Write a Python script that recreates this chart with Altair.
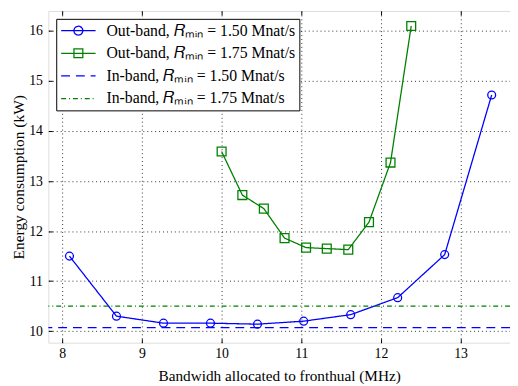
import altair as alt
import pandas as pd

labels = [
    "Out-band, 𝑅ₘᵢₙ = 1.50 Mnat/s",
    "Out-band, 𝑅ₘᵢₙ = 1.75 Mnat/s",
    "In-band, 𝑅ₘᵢₙ = 1.50 Mnat/s",
    "In-band, 𝑅ₘᵢₙ = 1.75 Mnat/s",
]
bw_150 = [8.09, 8.68, 9.27, 9.86, 10.45, 11.03, 11.62, 12.21, 12.80, 13.39]
energy_150 = [11.50, 10.30, 10.16, 10.16, 10.14, 10.20, 10.33, 10.67, 11.53, 14.72]
bw_175 = [10.00, 10.26, 10.53, 10.79, 11.06, 11.32, 11.59, 11.85, 12.12, 12.38]
energy_175 = [13.59, 12.72, 12.45, 11.86, 11.67, 11.65, 11.63, 12.18, 13.37, 16.10]
inband_levels = [10.07, 10.50]
x_ticks = [8, 9, 10, 11, 12, 13]
y_ticks = [10, 11, 12, 13, 14, 15, 16]

out_df = pd.DataFrame({
    "bw": bw_150 + bw_175,
    "energy": energy_150 + energy_175,
    "series": [labels[0]] * len(bw_150) + [labels[1]] * len(bw_175),
})
in_df = pd.DataFrame({"energy": inband_levels, "series": labels[2:]})
legend_df = pd.DataFrame({"series": labels})

colors = ["#0000ff", "#008000", "#0000ff", "#008000"]
dashes = [[1, 0], [1, 0], [9, 6], [5, 3, 1, 3]]

circ = "M-1,0H4M2.143,0A0.643,0.643 0 1,1 0.857,0A0.643,0.643 0 1,1 2.143,0"
sq = "M-1,0H4M0.857,-0.643H2.143V0.643H0.857Z"
ln = "M-1,0H4"
shapes = [circ, sq, ln, ln]

FONT = "Liberation Serif"

xscale = alt.Scale(domain=[7.825, 13.62], nice=False, zero=False)
yscale = alt.Scale(domain=[9.77, 16.40], nice=False, zero=False)

leg = alt.Legend(
    title=None, orient="none", legendX=8, legendY=8,
    direction="vertical",
    strokeColor="black", fillColor="white", cornerRadius=0,
    padding=4, labelFont=FONT, labelFontSize=16, labelColor="black",
    symbolSize=196, symbolStrokeWidth=1.3, labelOffset=31, rowPadding=7,
    symbolFillColor="transparent", labelLimit=400,
)
color = alt.Color("series:N", scale=alt.Scale(domain=labels, range=colors), sort=labels, legend=leg)
dash = alt.StrokeDash("series:N", scale=alt.Scale(domain=labels, range=dashes), sort=labels, legend=leg)
shape = alt.Shape("series:N", scale=alt.Scale(domain=labels, range=shapes), sort=labels, legend=leg)

y_axis = alt.Axis(
    values=y_ticks, title="Energy consumption (kW)", tickSize=4, offset=-4,
    labelPadding=6, grid=True, gridDash=[1, 3], gridColor="black", gridWidth=0.8,
    domain=False, tickColor="black", labelFont=FONT, labelFontSize=14,
    labelColor="black", titleFont=FONT, titleFontSize=15.7, titleFontWeight="normal",
    titleColor="black", titlePadding=2,
)
x_axis = alt.Axis(
    values=x_ticks, title="Bandwidh allocated to fronthual (MHz)", tickSize=4,
    offset=-4, labelPadding=4, grid=True, gridDash=[1, 3], gridColor="black",
    gridWidth=0.8, domain=False, tickColor="black", labelFont=FONT,
    labelFontSize=14, labelColor="black", titleFont=FONT, titleFontSize=15.5,
    titleFontWeight="normal", titleColor="black", titlePadding=8, format="d",
)
x_axis_top = alt.Axis(
    orient="top", values=x_ticks, title=None, labels=False, tickSize=4, offset=-4,
    grid=False, domain=False, tickColor="black",
)

Y = alt.Y("energy:Q", scale=yscale, axis=y_axis)

rules = alt.Chart(in_df).mark_rule(strokeWidth=1.3).encode(
    y=Y, color=color, strokeDash=dash,
)
lines = alt.Chart(out_df).mark_line(strokeWidth=1.3).encode(
    x=alt.X("bw:Q", scale=xscale, axis=x_axis),
    y=Y, color=color, strokeDash=dash,
)
circles = alt.Chart(out_df).transform_filter(
    alt.datum.series == labels[0]
).mark_point(shape="circle", filled=False, strokeWidth=1.3, size=64, opacity=1).encode(
    x=alt.X("bw:Q", scale=xscale, axis=x_axis_top),
    y=Y, color=color,
)
squares = alt.Chart(out_df).transform_filter(
    alt.datum.series == labels[1]
).mark_point(shape="square", filled=False, strokeWidth=1.3, size=81, opacity=1).encode(
    x=alt.X("bw:Q", scale=xscale, axis=None),
    y=Y, color=color,
)
legend_layer = alt.Chart(legend_df).transform_filter("false").mark_point(
    filled=False, strokeWidth=1.3, opacity=1
).encode(color=color, strokeDash=dash, shape=shape)

chart = alt.layer(lines, rules, circles, squares, legend_layer).resolve_axis(
    x="independent"
).properties(
    width=469, height=337,
    autosize=alt.AutoSizeParams(type="none"),
    padding={"left": 41, "top": 0, "right": 0, "bottom": 41},
).configure_view(stroke="black", strokeWidth=1).configure(background="white")

chart.save("out.html", embed_options={"renderer": "svg", "actions": False})
